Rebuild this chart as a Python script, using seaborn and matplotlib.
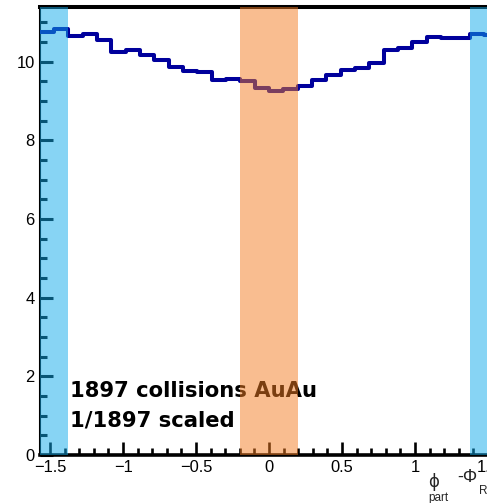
import numpy as np
import pandas as pd
import matplotlib
matplotlib.use("Agg")
import matplotlib.pyplot as plt
from matplotlib.ticker import MultipleLocator
import seaborn as sns

# ---- data ----
n_bins = 32
bin_values = [10.75, 10.83, 10.64, 10.70, 10.55, 10.24, 10.30, 10.17,
              10.03, 9.87, 9.77, 9.73, 9.53, 9.57, 9.52, 9.32,
              9.25, 9.30, 9.38, 9.53, 9.67, 9.80, 9.85, 9.97,
              10.30, 10.35, 10.49, 10.62, 10.60, 10.60, 10.71, 10.67]
phi_min, phi_max = -np.pi / 2, np.pi / 2
band_in_plane = (-np.pi / 16, np.pi / 16)
band_out_left = (-np.pi / 2, -np.pi / 2 + np.pi / 16)
band_out_right = (np.pi / 2 - np.pi / 16, np.pi / 2)
y_max = 11.39
x_ticks = [-1.5, -1, -0.5, 0, 0.5, 1, 1.5]
y_ticks = [0, 2, 4, 6, 8, 10]
text_lines = ["1897 collisions AuAu", "1/1897 scaled"]

bin_edges = np.linspace(phi_min, phi_max, n_bins + 1)
bin_centers = 0.5 * (bin_edges[:-1] + bin_edges[1:])
df = pd.DataFrame({"phi": bin_centers, "w": bin_values})

sns.set_style("ticks")
plt.rcParams["font.family"] = ["Liberation Sans", "DejaVu Sans"]

W, H = 487, 503
fig = plt.figure(figsize=(W / 100, H / 100), dpi=100)
left_px, right_px, top_px, bottom_px = 39.7, 498.3, 7.0, 455.0
ax = fig.add_axes([left_px / W, 1 - bottom_px / H,
                   (right_px - left_px) / W, (bottom_px - top_px) / H])

sns.histplot(data=df, x="phi", weights="w", bins=n_bins, binrange=(phi_min, phi_max),
             element="step", fill=False, color="#00009c", linewidth=2.9, ax=ax, zorder=3)

ax.set_xlim(phi_min, phi_max)
ax.set_ylim(0, y_max)
ax.set_xlabel("")
ax.set_ylabel("")

ax.xaxis.set_minor_locator(MultipleLocator(0.1))
ax.yaxis.set_minor_locator(MultipleLocator(0.5))
ax.set_xticks(x_ticks)
ax.set_xticklabels(["\u22121.5", "\u22121", "\u22120.5", "0", "0.5", "1", "1.5"])
ax.set_yticks(y_ticks)
ax.set_yticklabels([str(v) for v in y_ticks])

ax.tick_params(axis="both", which="both", direction="in", top=False, right=False,
               colors="black", labelsize=11.9)
ax.tick_params(axis="y", which="major", length=9.5, width=2.2, pad=3.5)
ax.tick_params(axis="y", which="minor", length=4.8, width=2.2)
ax.tick_params(axis="x", which="major", length=9.5, width=1.9, pad=3.5)
ax.tick_params(axis="x", which="minor", length=4.8, width=1.9)

for side, lw in [("bottom", 2.6), ("top", 2.9), ("left", 1.5)]:
    ax.spines[side].set_linewidth(lw)
    ax.spines[side].set_color("black")
ax.spines["right"].set_visible(False)

# annotation (under the bands)
bold_fam = ["DejaVu Sans"]
ax.text(70 / W, 1 - 397 / H, text_lines[0], transform=fig.transFigure,
        fontsize=15.2, fontweight="bold", va="baseline", ha="left", zorder=4,
        color="black", family=bold_fam)
ax.text(70 / W, 1 - 426.5 / H, text_lines[1], transform=fig.transFigure,
        fontsize=15.2, fontweight="bold", va="baseline", ha="left", zorder=4,
        color="black", family=bold_fam)

# semi-transparent bands on top
for lo, hi in [band_out_left, band_out_right]:
    ax.axvspan(lo, hi, color="#10aaeb", alpha=0.5, lw=0, zorder=10)
ax.axvspan(*band_in_plane, color="#f57d23", alpha=0.5, lw=0, zorder=10)

# x-axis title, ROOT style at the right end (cut by the figure edge as in the reference)
fs = ["DejaVu Sans"]
fig.text(428 / W, 1 - 482 / H, "\u03d5", fontsize=12, va="center", ha="left", family=fs)
fig.text(428 / W, 1 - 498 / H, "part", fontsize=8.5, va="center", ha="left")
fig.text(457 / W, 1 - 478 / H, "-\u03a6", fontsize=13, va="center", ha="left")
fig.text(478.5 / W, 1 - 491 / H, "R", fontsize=8.5, va="center", ha="left")

fig.savefig("out.png", dpi=100)
